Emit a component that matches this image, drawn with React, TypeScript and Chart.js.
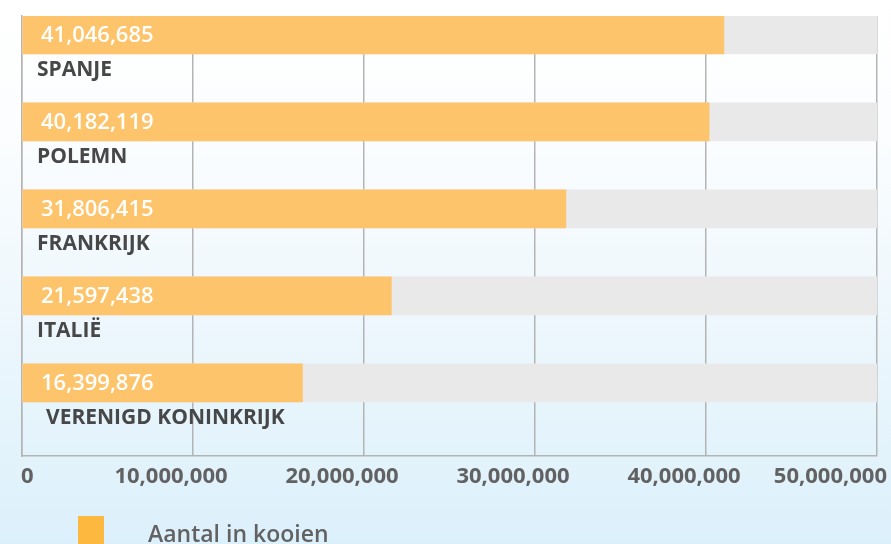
import React, { useEffect, useRef } from "react";
import { Chart, registerables } from "chart.js";

Chart.register(...registerables);

const countries = ["SPANJE", "POLEMN", "FRANKRIJK", "ITALIË", "VERENIGD KONINKRIJK"];
const caged = [41046685, 40182119, 31806415, 21597438, 16399876];
const seriesLabel = "Aantal in kooien";
const axisMax = 50000000;
const axisStep = 10000000;

const FONT = "'Open Sans', 'Noto Sans', sans-serif";
const fmt = (v: number) => v.toLocaleString("en-US");

const bgPlugin = {
  id: "bgGrad",
  beforeDraw(chart: any) {
    const { ctx, width, height } = chart;
    const g = ctx.createLinearGradient(0, 0, 0, height);
    g.addColorStop(0, "#ffffff");
    g.addColorStop(0.25, "#fbfdfe");
    g.addColorStop(1, "#dcf0fb");
    ctx.save();
    ctx.fillStyle = g;
    ctx.fillRect(0, 0, width, height);
    ctx.restore();
  },
};

const labelsPlugin = {
  id: "customLabels",
  afterDraw(chart: any) {
    const { ctx } = chart;
    const xs = chart.scales.x;
    const ys = chart.scales.y;
    ctx.save();
    countries.forEach((name, i) => {
      const cy = ys.getPixelForValue(i);
      const x0 = xs.getPixelForValue(0);
      ctx.font = `600 22px ${FONT}`;
      ctx.fillStyle = "#ffffff";
      ctx.textAlign = "left";
      ctx.textBaseline = "middle";
      ctx.fillText(fmt(caged[i]), x0 + 19, cy + 1);
      ctx.font = `bold 21px ${FONT}`;
      ctx.fillStyle = "#474747";
      ctx.fillText(name, x0 + (i === countries.length - 1 ? 24 : 15), cy + 35);
    });
    const ticks = xs.ticks;
    ctx.font = `bold 22px ${FONT}`;
    ctx.fillStyle = "#626262";
    ctx.textBaseline = "middle";
    const ty = chart.chartArea.bottom + 21;
    ticks.forEach((t: any, i: number) => {
      const px = xs.getPixelForValue(t.value);
      const txt = fmt(t.value);
      if (i === 0) {
        ctx.textAlign = "left";
        ctx.fillText(txt, px - 1, ty);
      } else if (i === ticks.length - 1) {
        ctx.textAlign = "right";
        ctx.fillText(txt, px + 10, ty);
      } else {
        ctx.textAlign = "center";
        ctx.fillText(txt, px - 22, ty);
      }
    });
    const ds = chart.data.datasets[0];
    ctx.fillStyle = "#fdb93f";
    ctx.fillRect(78, 516, 26, 30);
    ctx.font = `600 23px ${FONT}`;
    ctx.fillStyle = "#626262";
    ctx.textAlign = "left";
    ctx.fillText(ds.label, 148, 535);
    ctx.restore();
  },
};

export default function App() {
  const ref = useRef<HTMLCanvasElement>(null);
  useEffect(() => {
    document.body.style.margin = "0";
    const canvas = ref.current!;
    const chart = new Chart(canvas, {
      type: "bar",
      data: {
        datasets: [
          {
            label: seriesLabel,
            data: caged.map((v, i) => ({ x: v, y: i })),
            backgroundColor: "#fdc46b",
            barThickness: 38,
            grouped: false,
          } as any,
          {
            label: "track",
            data: caged.map((_, i) => ({ x: axisMax, y: i })),
            backgroundColor: "#e9e9e9",
            barThickness: 38,
            grouped: false,
          } as any,
        ],
      },
      options: {
        indexAxis: "y",
        animation: false,
        responsive: false,
        events: [],
        layout: { padding: { left: 22, right: 14, top: 16, bottom: 88 } },
        plugins: { legend: { display: false }, tooltip: { enabled: false } },
        scales: {
          x: {
            type: "linear",
            min: 0,
            max: axisMax,
            offset: false,
            ticks: { display: false, stepSize: axisStep },
            grid: { color: "#b4b4b4", lineWidth: 1.5, drawTicks: false },
            border: { display: true, color: "#b4b4b4", width: 1.5 },
          },
          y: {
            type: "linear",
            reverse: true,
            offset: false,
            min: -0.218,
            max: 4.84,
            ticks: { display: false },
            grid: { display: false, drawTicks: false, offset: false },
            border: { display: true, color: "#b4b4b4", width: 1.5 },
          },
        },
      } as any,
      plugins: [bgPlugin, labelsPlugin],
    });
    return () => chart.destroy();
  }, []);
  return <canvas ref={ref} width={891} height={544} style={{ display: "block" }} />;
}
